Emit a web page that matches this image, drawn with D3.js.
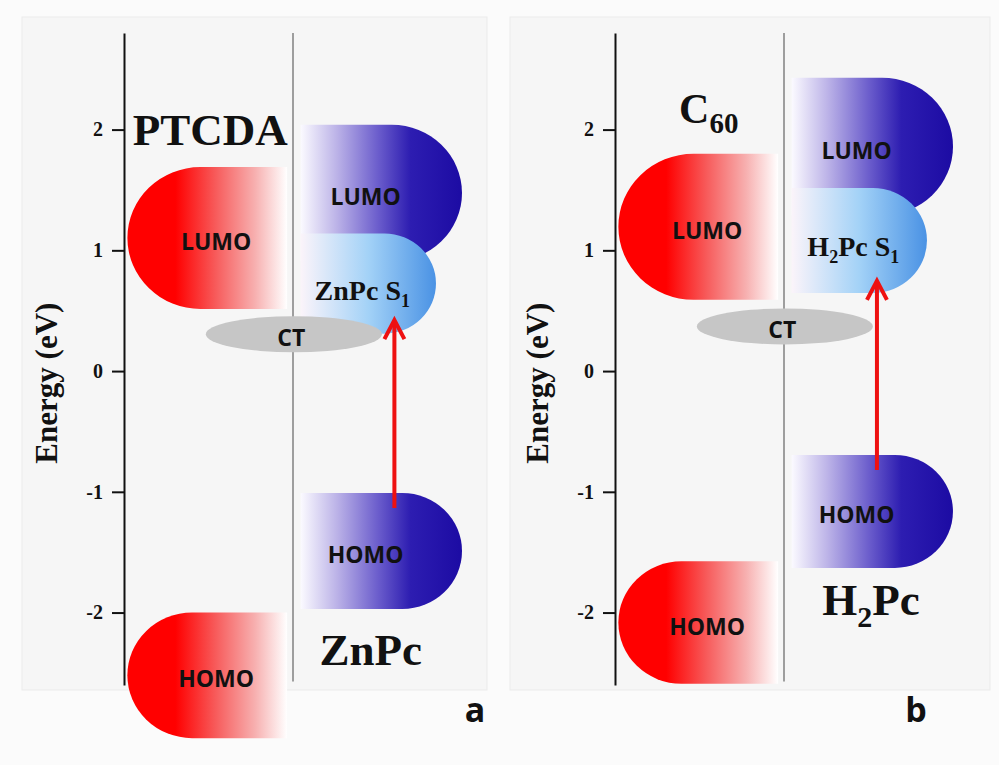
<!DOCTYPE html>
<html>
<head>
<meta charset="utf-8">
<script src="https://cdn.jsdelivr.net/npm/d3@7"></script>
<style>
  html, body { margin: 0; padding: 0; background: #fbfbfb; }
  svg { display: block; }
</style>
</head>
<body>
<div id="chart"></div>
<script>
// energy levels (eV), one entry per panel
var panelIds = ["a", "b"];
var acceptorNames = ["PTCDA", "C60"];
var donorNames = ["ZnPc", "H2Pc"];
var acceptorLumo = [[0.515, 1.69], [0.59, 1.80]];
var acceptorHomo = [[-3.04, -2.0], [-2.59, -1.575]];
var donorLumo = [[0.91, 2.04], [1.29, 2.43]];
var donorS1 = [[0.31, 1.14], [0.647, 1.517]];
var donorHomo = [[-1.97, -1.01], [-1.63, -0.695]];
var ctLevel = [0.305, 0.37];
var excitation = [[-1.135, 0.43], [-0.82, 0.755]];
var majorTicks = [-2, -1, 0, 1, 2];
var minorTicks = d3.range(-13, 15).map(function (i) { return i / 5; });

// layout
var width = 999, height = 765;
var axisX = [124, 615];
var arrowX = [1.60, 1.55];
var serif = "'Times New Roman', 'Liberation Serif', serif";
var sans = "'Open Sans', 'Liberation Sans', sans-serif";

var svg = d3.select("#chart").append("svg")
    .attr("width", width)
    .attr("height", height);

svg.append("rect").attr("width", width).attr("height", height).attr("fill", "#fbfbfb");

var defs = svg.append("defs");

function gradient(id, stops) {
    var g = defs.append("linearGradient").attr("id", id)
        .attr("x1", "0%").attr("x2", "100%").attr("y1", "0%").attr("y2", "0%");
    stops.forEach(function (s) {
        g.append("stop").attr("offset", s[0]).attr("stop-color", s[1]);
    });
}
gradient("redGrad", [["0%", "#ff0000"], ["30%", "#ff0000"], ["55%", "#f75a5a"], ["80%", "#f7b0b0"], ["100%", "#ffffff"]]);
gradient("blueGrad", [["0%", "#fbfaff"], ["22%", "#bdb4e8"], ["48%", "#6b5dcc"], ["68%", "#2d1db1"], ["100%", "#1c0ba3"]]);
gradient("s1Grad", [["0%", "#fbf4fa"], ["50%", "#a3d2f7"], ["100%", "#4a92e4"]]);

var y = d3.scaleLinear().domain([-2.6, 2.8]).range([685, 33]);

// bar with one rounded end
function levelPath(x0, x1, yt, yb, side) {
    var ry = (yb - yt) / 2, rx = Math.min(ry * 1.03, x1 - x0);
    if (side === "left") {
        return "M" + x1 + "," + yt + "H" + (x0 + rx) + "A" + rx + "," + ry + " 0 0 0 " + (x0 + rx) + "," + yb + "H" + x1 + "Z";
    }
    return "M" + x0 + "," + yt + "H" + (x1 - rx) + "A" + rx + "," + ry + " 0 0 1 " + (x1 - rx) + "," + yb + "H" + x0 + "Z";
}

var panelBox = [[22, 17, 465, 673], [510, 17, 480, 673]];

panelIds.forEach(function (id, i) {
    var x = d3.scaleLinear().domain([0, 2]).range([axisX[i], axisX[i] + 338]);
    var g = svg.append("g");

    g.append("rect")
        .attr("x", panelBox[i][0]).attr("y", panelBox[i][1])
        .attr("width", panelBox[i][2]).attr("height", panelBox[i][3])
        .attr("fill", "#f6f6f6").attr("stroke", "#ebebeb");

    // divider between acceptor and donor
    g.append("line")
        .attr("x1", x(1)).attr("x2", x(1))
        .attr("y1", y(2.8)).attr("y2", y(-2.57))
        .attr("stroke", "#808080").attr("stroke-width", 1.5);

    // acceptor levels
    [acceptorLumo[i], acceptorHomo[i]].forEach(function (lv) {
        g.append("path")
            .attr("d", levelPath(x(0.02), x(0.965), y(lv[1]), y(lv[0]), "left"))
            .attr("fill", "url(#redGrad)");
    });
    // donor levels
    [donorLumo[i], donorHomo[i]].forEach(function (lv) {
        g.append("path")
            .attr("d", levelPath(x(1.045), x(2.0), y(lv[1]), y(lv[0]), "right"))
            .attr("fill", "url(#blueGrad)");
    });
    g.append("path")
        .attr("d", levelPath(x(1.045), x(1.846), y(donorS1[i][1]), y(donorS1[i][0]), "right"))
        .attr("fill", "url(#s1Grad)");

    // CT state
    g.append("ellipse")
        .attr("cx", x(1.005)).attr("cy", y(ctLevel[i]))
        .attr("rx", 88).attr("ry", 18)
        .attr("fill", "#c6c6c6");
    g.append("text")
        .attr("x", x(0.99)).attr("y", y(ctLevel[i]) + 4)
        .attr("dy", "0.35em")
        .attr("text-anchor", "middle")
        .style("font-family", sans).style("font-weight", "bold").style("font-size", "23px")
        .attr("fill", "#111")
        .text("CT");

    // level labels
    var lab = [
        {t: "LUMO", xv: 0.545, lv: acceptorLumo[i]},
        {t: "HOMO", xv: 0.545, lv: acceptorHomo[i]},
        {t: "LUMO", xv: 1.43, lv: donorLumo[i]},
        {t: "HOMO", xv: 1.43, lv: donorHomo[i]}
    ];
    lab.forEach(function (d) {
        g.append("text")
            .attr("x", x(d.xv)).attr("y", y((d.lv[0] + d.lv[1]) / 2) + 4)
            .attr("dy", "0.35em")
            .attr("text-anchor", "middle")
            .style("font-family", sans).style("font-weight", "bold").style("font-size", "23px")
            .attr("fill", "#111")
            .text(d.t);
    });

    // S1 label
    var s1 = g.append("text")
        .attr("x", x(1.41)).attr("y", y((donorS1[i][0] + donorS1[i][1]) / 2) + 16)
        .attr("text-anchor", "middle")
        .style("font-family", serif).style("font-weight", "bold").style("font-size", "28px")
        .attr("fill", "#111");
    if (i === 0) {
        s1.append("tspan").text("ZnPc S");
    } else {
        s1.append("tspan").text("H");
        s1.append("tspan").attr("dy", 7).style("font-size", "18px").text("2");
        s1.append("tspan").attr("dy", -7).text("Pc S");
    }
    s1.append("tspan").attr("dy", 7).style("font-size", "18px").text("1");

    // excitation arrow
    var ax = x(arrowX[i]), y0 = y(excitation[i][0]), y1 = y(excitation[i][1]);
    g.append("line")
        .attr("x1", ax).attr("x2", ax).attr("y1", y0).attr("y2", y1 + 2)
        .attr("stroke", "#ee1111").attr("stroke-width", 4);
    g.append("path")
        .attr("d", "M" + (ax - 10) + "," + (y1 + 20) + "L" + ax + "," + (y1 + 1) + "L" + (ax + 10) + "," + (y1 + 20))
        .attr("fill", "none").attr("stroke", "#ee1111").attr("stroke-width", 4);

    // axis
    var axisG = g.append("g").attr("transform", "translate(" + axisX[i] + ",0)");
    axisG.call(d3.axisLeft(y).tickValues(minorTicks).tickSize(6).tickSizeOuter(0).tickFormat(""));
    axisG.call(d3.axisLeft(y).tickValues(majorTicks).tickSize(12).tickSizeOuter(0).tickPadding(9)
        .tickFormat(function (d) { return String(d); }));
    axisG.selectAll("path, line").attr("stroke", "#111").attr("stroke-width", 2);
    axisG.selectAll("text")
        .style("font-family", serif).style("font-weight", "bold").style("font-size", "20px")
        .attr("fill", "#111");

    g.append("text")
        .attr("transform", "translate(" + (axisX[i] - 67) + "," + y(-0.1) + ") rotate(-90)")
        .attr("text-anchor", "middle")
        .style("font-family", serif).style("font-weight", "bold").style("font-size", "31px")
        .attr("fill", "#111")
        .text("Energy (eV)");

    // material names
    var accName = g.append("text")
        .attr("text-anchor", "middle")
        .style("font-family", serif).style("font-weight", "bold")
        .attr("fill", "#111");
    var donName = g.append("text")
        .attr("text-anchor", "middle")
        .style("font-family", serif).style("font-weight", "bold").style("font-size", "45px")
        .attr("fill", "#111");
    if (i === 0) {
        accName.attr("x", x(0.51)).attr("y", 145).style("font-size", "45px").text(acceptorNames[i]);
        donName.attr("x", x(1.46)).attr("y", 665).text(donorNames[i]);
    } else {
        accName.attr("x", x(0.555)).attr("y", 123).style("font-size", "42px");
        accName.append("tspan").text("C");
        accName.append("tspan").attr("dy", 10).style("font-size", "29px").text("60");
        donName.attr("x", x(1.515)).attr("y", 615);
        donName.append("tspan").text("H");
        donName.append("tspan").attr("dy", 12).style("font-size", "30px").text("2");
        donName.append("tspan").attr("dy", -12).text("Pc");
    }

    g.append("text")
        .attr("x", x(2.0) + (i === 0 ? 13 : -37)).attr("y", 722)
        .attr("text-anchor", "middle")
        .style("font-family", sans).style("font-weight", "bold").style("font-size", "34px")
        .attr("fill", "#111")
        .text(id);
});
</script>
</body>
</html>
